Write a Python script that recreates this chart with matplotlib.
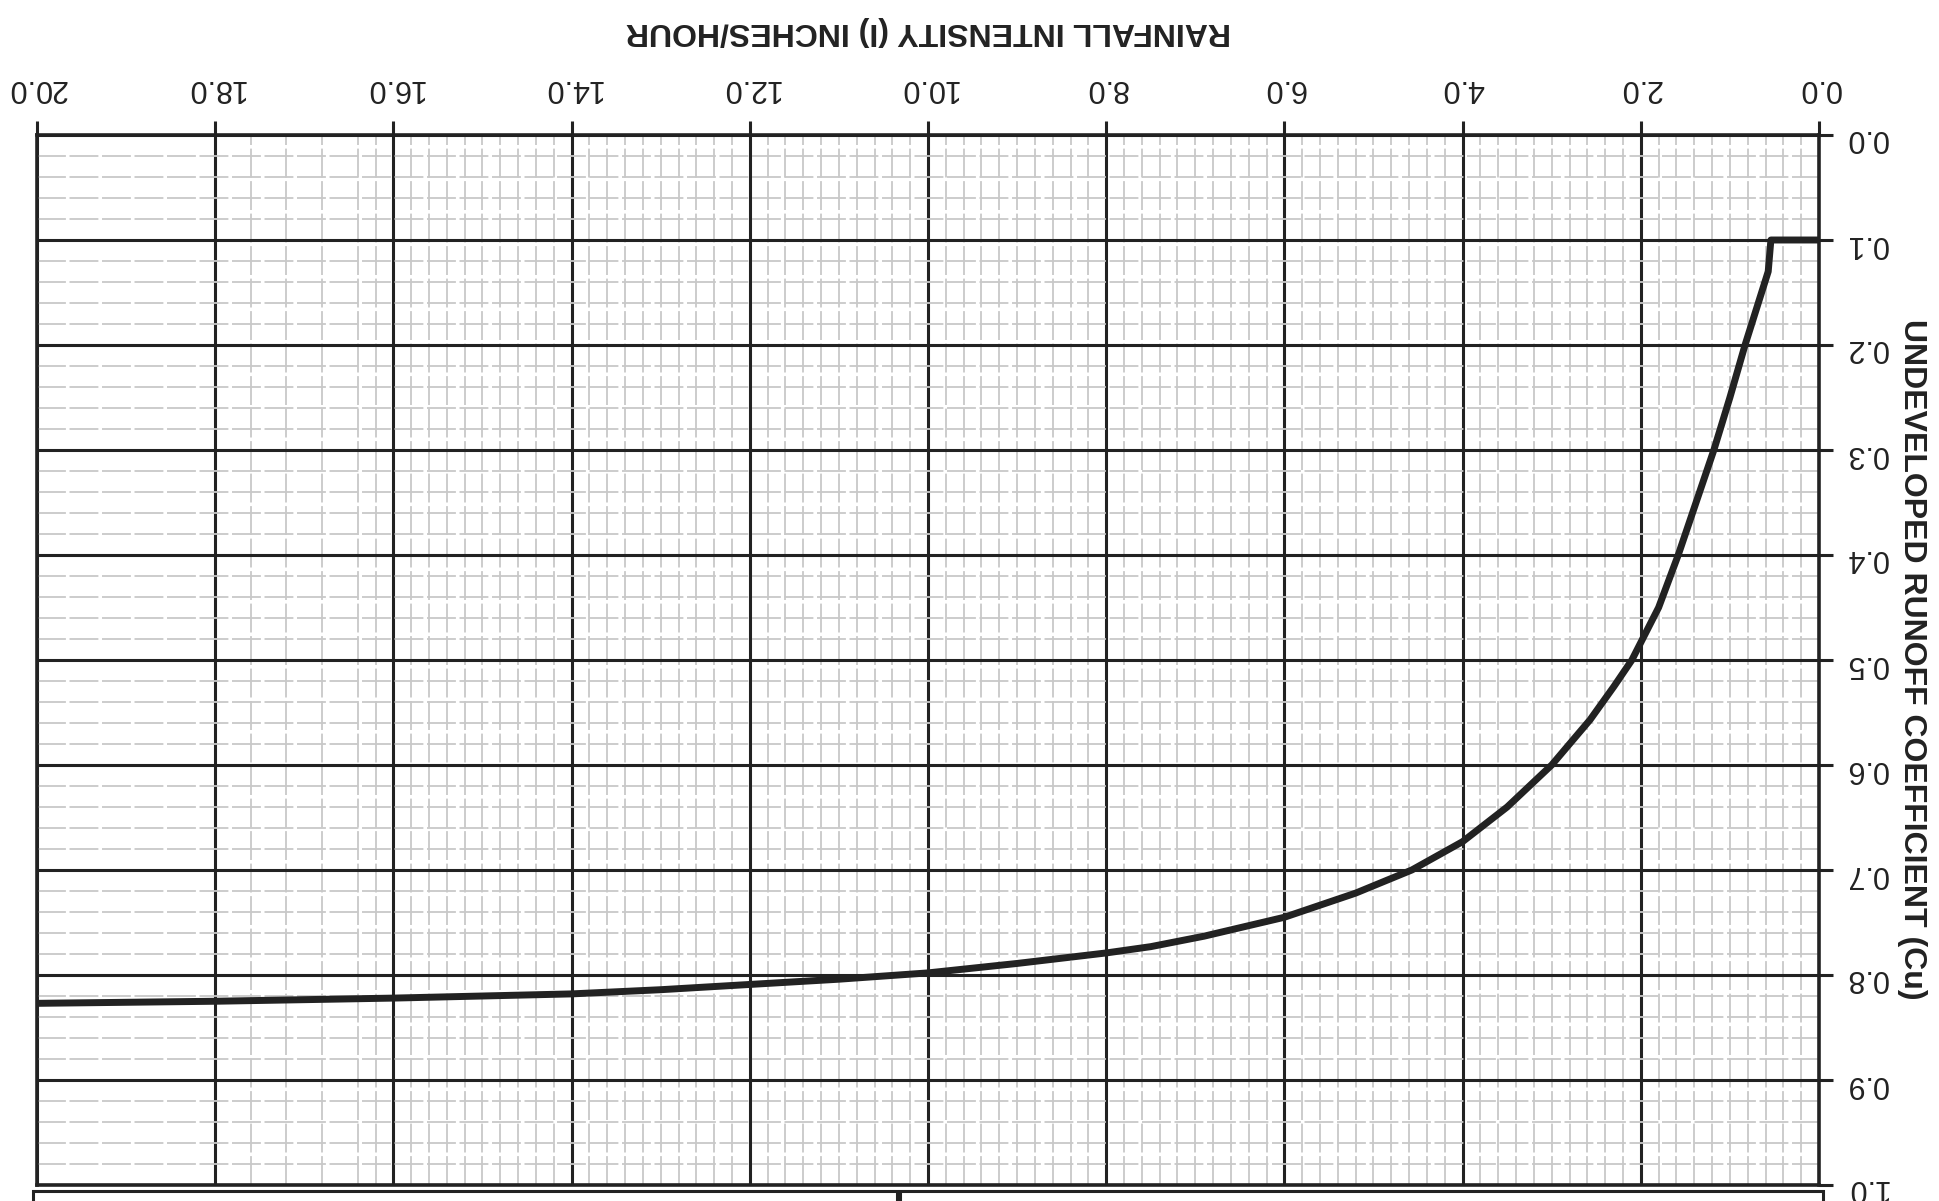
import matplotlib
matplotlib.use("Agg")
import matplotlib.pyplot as plt
import numpy as np
from matplotlib.patches import Rectangle
from matplotlib.ticker import FixedLocator

# rainfall intensity (in/hr) vs undeveloped runoff coefficient
intensity = [0.0, 0.54, 0.57, 0.83, 1.0, 1.18, 1.58, 1.8, 2.10, 2.3, 2.57, 2.83, 3.0,
             3.5, 4.0, 4.57, 5.2, 6.0, 6.9, 7.5, 8.0, 9.0, 10.0, 11.0, 12.0, 13.0,
             14.0, 16.0, 18.0, 20.0]
coeff = [0.1, 0.1, 0.13, 0.2, 0.25, 0.3, 0.4, 0.45, 0.5, 0.525, 0.557, 0.583, 0.6,
         0.64, 0.673, 0.7, 0.722, 0.745, 0.763, 0.773, 0.779, 0.789, 0.798, 0.804, 0.809, 0.814,
         0.818, 0.822, 0.825, 0.827]

x_major = np.arange(0, 20.1, 2.0)
y_major = np.arange(0, 1.01, 0.1)
x_labels = ["%.1f" % v for v in x_major]
y_labels = ["%.1f" % v for v in y_major]
# graph paper: no fine verticals past 18, uneven ones between 16 and 18
x_minor = [v / 10 for v in range(0, 160, 2) if v % 20 != 0] + [16.2, 16.4, 16.8, 17.2, 17.6]
y_minor = [v / 100 for v in range(0, 100, 2) if v % 10 != 0]

W, H = 1940, 1201
fig = plt.figure(figsize=(W / 100, H / 100), dpi=100)
ax = fig.add_axes([37 / W, 1 - 1185 / H, 1782 / W, 1050 / H])

# the sheet is scanned upside down
ax.set_xlim(20, 0)
ax.set_ylim(1.0, 0.0)
ax.xaxis.tick_top()
ax.yaxis.tick_right()

ax.set_xticks(x_major)
ax.set_xticklabels(x_labels)
ax.set_yticks(y_major)
ax.set_yticklabels(y_labels)
ax.xaxis.set_minor_locator(FixedLocator(x_minor))
ax.yaxis.set_minor_locator(FixedLocator(y_minor))

tick_font = ["Liberation Sans", "DejaVu Sans"]
ax.tick_params(axis="x", which="major", direction="out", length=10, width=2.2,
               labelrotation=180, labelsize=22, pad=13, color="#222222")
ax.tick_params(axis="y", which="major", direction="out", length=10, width=2.2,
               labelrotation=180, labelsize=22, pad=9, color="#222222")
ax.tick_params(which="minor", length=0)
for lab in ax.get_xticklabels() + ax.get_yticklabels():
    lab.set_family(tick_font)
    lab.set_color("#222222")

ax.set_axisbelow(True)
ax.grid(which="minor", color="#c8c8c8", lw=1.3, linestyle=(0, (16, 2)))
ax.grid(which="major", color="#222222", lw=2.2)
for s in ax.spines.values():
    s.set_linewidth(2.6)
    s.set_color("#222222")

ax.plot(intensity, coeff, color="#222222", lw=5, solid_joinstyle="round",
        solid_capstyle="butt", zorder=5)

label_font = ["Liberation Sans Narrow", "Liberation Sans", "DejaVu Sans"]
ax.text(0.5, 1.099, "RAINFALL INTENSITY (I) INCHES/HOUR", transform=ax.transAxes,
        rotation=180, ha="center", va="center", fontsize=23, fontweight="bold",
        family=label_font, color="#222222")
ax.text(1.052, 0.501, "UNDEVELOPED RUNOFF COEFFICIENT (Cu)", transform=ax.transAxes,
        rotation=270, ha="center", va="center", fontsize=23, fontweight="bold",
        family=label_font, color="#222222")

# edges of the table printed under the chart, cut off by the page
for x0, x1 in [(33, 897), (900, 1823)]:
    fig.patches.append(Rectangle((x0 / W, -0.05), (x1 - x0) / W, 0.05 + (1 - 1191 / H),
                                 transform=fig.transFigure, fill=False,
                                 lw=2.2, ec="#222222", clip_on=False))

fig.savefig("out.png", dpi=100)
